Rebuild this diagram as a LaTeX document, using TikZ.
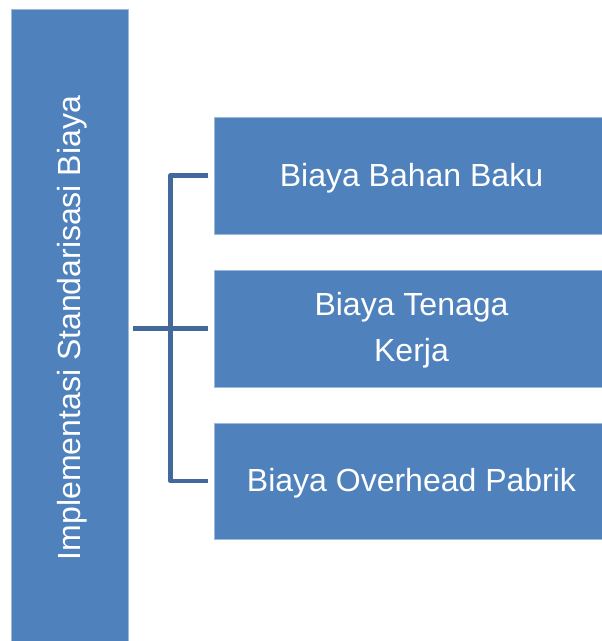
\documentclass[tikz,border=0pt]{standalone}
\usepackage{fontspec}
\setmainfont{Liberation Sans}
\usetikzlibrary{calc}
\definecolor{boxblue}{HTML}{4F81BD}
\definecolor{boxedge}{HTML}{9DB9DC}
\definecolor{connblue}{HTML}{41699C}
\tikzset{
  blok/.style={draw=boxedge, line width=0.8pt, fill=boxblue, inner sep=0pt, outer sep=0pt},
  lbl/.style={text=white, font=\fontsize{32}{46}\selectfont, inner sep=0pt, align=center},
  conn/.style={draw=connblue, line width=4.5pt, line join=round, line cap=butt}
}
\begin{document}
\begin{tikzpicture}[x=1pt,y=-1pt]
\useasboundingbox (0,0) rectangle (602,641);
\clip (0,0) rectangle (602,641);
\fill[white] (0,0) rectangle (602,641);
% left bar
\node[blok, minimum width=117pt, minimum height=640pt] (bar) at (70,329.5) {};
\node[lbl, rotate=90, anchor=base] (bartxt) at (80,328) {Implementasi Standarisasi Biaya};
% right boxes
\node[blok, minimum width=395pt, minimum height=117pt] (b1) at (411.5,175.5) {};
\node[blok, minimum width=395pt, minimum height=117pt] (b2) at (411.5,328.5) {};
\node[blok, minimum width=395pt, minimum height=116pt] (b3) at (411.5,481) {};
\node[lbl, anchor=base] (t1) at ($(b1.center)+(0,10.5)$) {Biaya Bahan Baku};
\node[lbl] (t2) at ($(b2.center)+(0,1.5)$) {Biaya Tenaga\\Kerja};
\node[lbl, anchor=base] (t3) at ($(b3.center)+(0,10.5)$) {Biaya Overhead Pabrik};
% connectors
\coordinate (j) at (170.5,328.5);
\draw[conn] ($(b1.west)+(-5.7,0)$) -| (j) |- ($(b3.west)+(-5.7,0)$);
\draw[conn] ($(bar.east |- b2.west)+(4.8,0)$) -- ($(b2.west)+(-5.7,0)$);
\end{tikzpicture}
\end{document}
